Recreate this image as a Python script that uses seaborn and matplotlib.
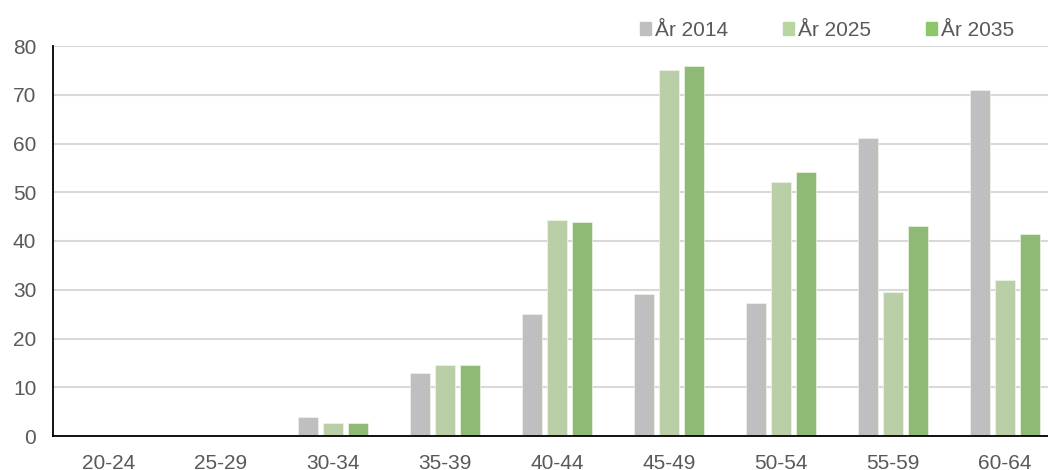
import matplotlib
matplotlib.use("Agg")
import matplotlib.pyplot as plt
import seaborn as sns
import pandas as pd
import numpy as np

categories = ["20-24", "25-29", "30-34", "35-39", "40-44", "45-49", "50-54", "55-59", "60-64"]
series_names = ["År 2014", "År 2025", "År 2035"]
v2014 = [0, 0, 4.0, 13.0, 25.0, 29.1, 27.2, 61.1, 71.0]
v2025 = [0, 0, 2.7, 14.6, 44.3, 75.1, 52.1, 29.5, 32.0]
v2035 = [0, 0, 2.6, 14.6, 43.9, 76.0, 54.2, 43.1, 41.4]
colors = ["#bfbfbf", "#bad6a0", "#8cc56a"]

df = pd.DataFrame({
    "Ålder": categories * 3,
    "År": [series_names[0]] * 9 + [series_names[1]] * 9 + [series_names[2]] * 9,
    "Värde": v2014 + v2025 + v2035,
})

sns.set_theme(style="white")
plt.rcParams["font.family"] = ["Liberation Sans", "DejaVu Sans"]

fig = plt.figure(figsize=(10.48, 4.70), dpi=100)
ax = fig.add_axes([53 / 1048, 34 / 470, 1008 / 1048, 390 / 470])

sns.barplot(data=df, x="Ålder", y="Värde", hue="År", palette=colors,
            width=0.67, gap=0.22, ax=ax, legend=False,
            edgecolor="#eef5e8", linewidth=0.5)

ax.set_xlim(-0.5, 8.5)
ax.set_ylim(0, 80)
ax.set_yticks(np.arange(0, 81, 10))
ax.yaxis.grid(True, color="#d9d9d9", linewidth=1.5)
ax.set_axisbelow(True)
ax.set_xlabel("")
ax.set_ylabel("")

for s in ["top", "right"]:
    ax.spines[s].set_visible(False)
for s in ["left", "bottom"]:
    ax.spines[s].set_color("black")
    ax.spines[s].set_linewidth(1.3)

ax.tick_params(axis="y", which="both", length=0, labelsize=15, labelcolor="#595959", pad=12)
ax.tick_params(axis="x", which="major", length=0, labelsize=15, labelcolor="#595959", pad=13)
ax.set_xticks(np.arange(-0.5, 9, 1), minor=True)
ax.tick_params(axis="x", which="minor", length=5, width=1.3, color="black", direction="out")

handles = [plt.Rectangle((0, 0), 1, 1, color=c) for c in colors]
fig.legend(handles, series_names, loc="upper right", bbox_to_anchor=(1033 / 1048, 0.995),
           ncol=3, frameon=False, fontsize=15, labelcolor="#595959",
           handlelength=0.55, handleheight=0.55, handletextpad=0.2,
           columnspacing=2.6, borderaxespad=0.5)

fig.savefig("out.png", dpi=100)
